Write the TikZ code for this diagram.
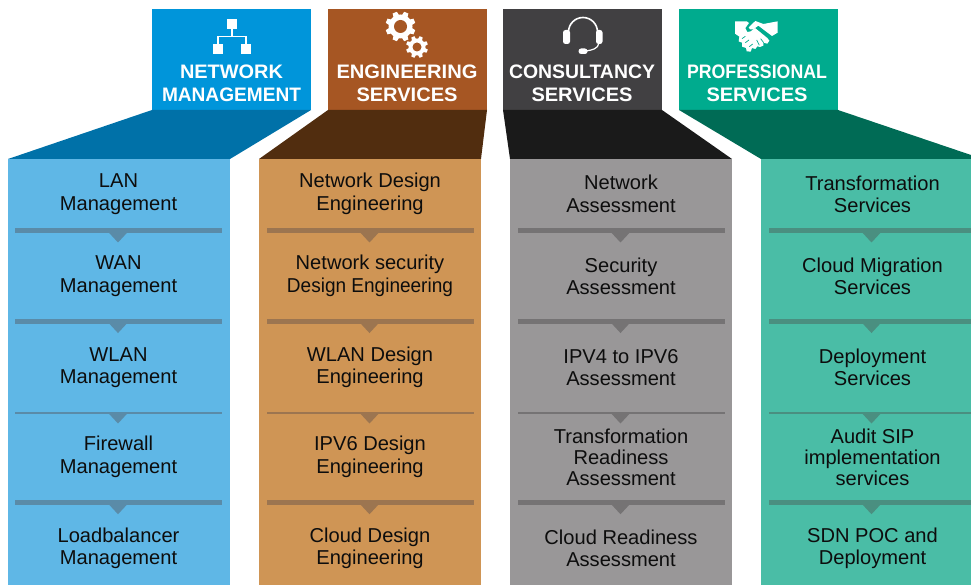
\documentclass[tikz,border=0pt]{standalone}
\usepackage{fontspec}
\usepackage{graphicx}
\setmainfont{Liberation Sans}
\definecolor{blueH}{HTML}{0095DA}\definecolor{blueD}{HTML}{0071A8}\definecolor{blueC}{HTML}{5FB7E6}\definecolor{blueL}{HTML}{5A8BA8}
\definecolor{brownH}{HTML}{A65623}\definecolor{brownD}{HTML}{512D0F}\definecolor{brownC}{HTML}{CF9555}\definecolor{brownL}{HTML}{9C7550}
\definecolor{grayH}{HTML}{414042}\definecolor{grayD}{HTML}{1A1A1A}\definecolor{grayC}{HTML}{999798}\definecolor{grayL}{HTML}{757374}
\definecolor{greenH}{HTML}{00AB8E}\definecolor{greenD}{HTML}{006B55}\definecolor{greenC}{HTML}{4ABDA6}\definecolor{greenL}{HTML}{4A8F80}
\definecolor{ink}{HTML}{0D0D0D}
\tikzset{
  hbox/.style={minimum width=159pt,minimum height=101pt,inner sep=0pt,outer sep=0pt},
  colbox/.style={minimum height=426pt,inner sep=0pt,outer sep=0pt},
  item/.style={align=center,text=ink,inner sep=0pt,font=\fontsize{20.1}{23}\selectfont},
  itemmid/.style={align=center,text=ink,inner sep=0pt,font=\fontsize{20.1}{22}\selectfont},
  itemtight/.style={align=center,text=ink,inner sep=0pt,font=\fontsize{20.1}{21}\selectfont},
  hdr/.style={align=center,text=white,inner sep=0pt,font=\fontsize{19.5}{23}\selectfont\bfseries},
  netsq/.style={fill=white,minimum size=10pt,inner sep=0pt,outer sep=0pt},
  netln/.style={draw=white,line width=1.5pt},
}
\newcommand{\hw}[2]{\resizebox{#1pt}{\height}{#2}}
% divider: column left x, y, thickness, colour
\newcommand{\divd}[4]{%
  \fill[#4] (#1+7.5,#2-#3/2) rectangle (#1+214.5,#2+#3/2);
  \fill[#4] (#1+101.5,#2+#3/2-.2) -- (#1+119.5,#2+#3/2-.2) -- (#1+110.5,#2+#3/2+9.5) -- cycle;
}
\newcommand{\dividers}[2]{%
  \divd{#1}{230.5}{5}{#2}\divd{#1}{321.3}{4.5}{#2}\divd{#1}{413}{2}{#2}\divd{#1}{502.5}{4.5}{#2}
}
\newcommand{\gearicon}[6]{% x y outer inner hole bg
  \fill[white] (#1,#2) circle (#4);
  \foreach \a in {0,45,...,315}{
    \fill[white,shift={(#1,#2)},rotate=\a+22.5] (#4-1,-#3*0.2) -- (#3,-#3*0.15) -- (#3,#3*0.15) -- (#4-1,#3*0.2) -- cycle;
  }
  \fill[#6] (#1,#2) circle (#5);
}
\begin{document}
\begin{tikzpicture}[x=1pt,y=-1pt]
\useasboundingbox (0,0) rectangle (971,585);
\clip (0,0) rectangle (971,585);
% header boxes
\node[hbox,fill=blueH] (h1) at (231.5,59.5) {};
\node[hbox,fill=brownH] (h2) at (407.5,59.5) {};
\node[hbox,fill=grayH] (h3) at (582.5,59.5) {};
\node[hbox,fill=greenH] (h4) at (758.5,59.5) {};
% columns
\node[colbox,fill=blueC,minimum width=222pt] (c1) at (119,372) {};
\node[colbox,fill=brownC,minimum width=222pt] (c2) at (370,372) {};
\node[colbox,fill=grayC,minimum width=222pt] (c3) at (621,372) {};
\node[colbox,fill=greenC,minimum width=210pt] (c4) at (866,372) {};
\coordinate (c4t) at (971,155);
% trapezoids
\fill[blueD] (h1.south west) -- (h1.south east) -- (c1.north east) -- (c1.north west) -- cycle;
\fill[brownD] (h2.south west) -- (h2.south east) -- (c2.north east) -- (c2.north west) -- cycle;
\fill[grayD] (h3.south west) -- (h3.south east) -- (c3.north east) -- (c3.north west) -- cycle;
\fill[greenD] (h4.south west) -- (h4.south east) -- (c4t) -- (c4.north east) -- (c4.north west) -- cycle;
% dividers
\dividers{7.5}{blueL}\dividers{259}{brownL}\dividers{510}{grayL}\dividers{761}{greenL}
% header text
\node[hdr] (t1) at (231.5,83) {\hw{103}{NETWORK}\\\hw{139}{MANAGEMENT}};
\node[hdr] (t2) at (407,83) {\hw{141}{ENGINEERING}\\\hw{101}{SERVICES}};
\node[hdr] (t3) at (582,83) {\hw{146}{CONSULTANCY}\\\hw{101}{SERVICES}};
\node[hdr] (t4) at (757,83) {\hw{140}{PROFESSIONAL}\\\hw{101}{SERVICES}};
% column 1
\node[item] (a1) at (118.5,194) {LAN\\Management};
\node[item] (a2) at (118.5,276) {WAN\\Management};
\node[itemmid] (a3) at (118.5,367.5) {WLAN\\Management};
\node[item] (a4) at (118.5,457) {Firewall\\Management};
\node[itemmid] (a5) at (118.5,548) {Loadbalancer\\Management};
% column 2
\node[item] (b1) at (370,194) {Network Design\\Engineering};
\node[item] (b2) at (370,276) {Network security\\\hw{166}{Design Engineering}};
\node[itemmid] (b3) at (370,367.5) {WLAN Design\\Engineering};
\node[item] (b4) at (370,457) {IPV6 Design\\Engineering};
\node[itemmid] (b5) at (370,548) {Cloud Design\\Engineering};
% column 3
\node[item] (d1) at (621,193.5) {Network\\Assessment};
\node[itemmid] (d2) at (621,276.5) {Security\\Assessment};
\node[itemmid] (d3) at (621,367.5) {IPV4 to IPV6\\Assessment};
\node[itemtight] (d4) at (621,457) {Transformation\\Readiness\\Assessment};
\node[itemmid] (d5) at (621,548.5) {Cloud Readiness\\Assessment};
% column 4
\node[itemmid] (e1) at (872.5,194.5) {Transformation\\Services};
\node[itemmid] (e2) at (872.5,276.5) {Cloud Migration\\Services};
\node[itemmid] (e3) at (872.5,367.5) {Deployment\\Services};
\node[itemtight] (e4) at (872.5,457) {Audit SIP\\implementation\\services};
\node[itemmid] (e5) at (872.5,548) {SDN POC and\\Deployment};
% network icon
\node[netsq] (n0) at (232,24.5) {};
\node[netsq] (n1) at (218,49) {};
\node[netsq] (n2) at (246,49) {};
\coordinate (nj) at (232,36.5);
\draw[netln] (n0.south) -- (nj);
\draw[netln] (n1.north) -- (n1.north |- nj) -- (n2.north |- nj) -- (n2.north);
% gear icon
\gearicon{400.5}{26.5}{15}{12}{6.5}{brownH}
\gearicon{417}{47}{11}{8.5}{4.5}{brownH}
% headset icon
\draw[white,line width=1.6pt] (568.5,32) arc[start angle=180,end angle=360,radius=14.5];
\fill[white,rounded corners=2.5pt] (563,30) rectangle (570,44);
\fill[white,rounded corners=2.5pt] (596,30) rectangle (602.5,44);
\draw[white,line width=1.2pt] (599,43) .. controls (598,49) and (592,50) .. (586,51);
\fill[white,rounded corners=2.6pt] (578.5,48.5) rectangle (587.5,54);
% handshake icon
\begin{scope}[shift={(730,12)},x=.3333pt,y=-.3333pt]
\fill[white] (15,28) -- (50,28) -- (57,33) -- (46,48) -- (52,60) -- (62,58) -- (75,48) -- (112,78) -- (118,86) -- (112,95) -- (100,92) -- (100,101) -- (90,105) -- (82,103) -- (76,111) -- (66,108) -- (62,119) -- (50,118) -- (48,108) -- (36,104) -- (36,92) -- (26,88) -- (28,74) -- (15,65) -- cycle;
\fill[white] (62,40) -- (76,27) -- (100,36) -- (143,28) -- (143,62) -- (126,72) -- (85,41) -- (70,52) -- (60,52) -- (56,46) -- cycle;
\draw[greenH,line width=.7pt] (36,80) -- (46,73) (46,92) -- (57,84) (58,104) -- (68,96) (80,84) -- (88,100) (92,80) -- (101,92);
\end{scope}
\end{tikzpicture}
\end{document}
